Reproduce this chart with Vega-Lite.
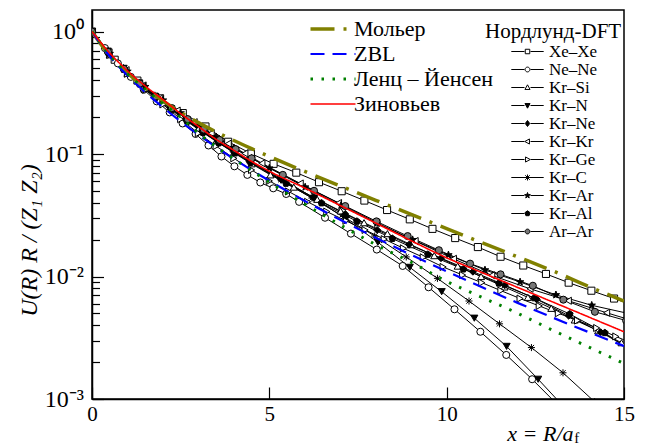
{
  "$schema": "https://vega.github.io/schema/vega-lite/v6.json",
  "width": 532,
  "height": 389,
  "autosize": {"type": "none"},
  "padding": {"left": 92, "top": 10, "right": 25, "bottom": 47},
  "background": "white",
  "config": {
    "font": "Liberation Serif",
    "view": {"stroke": "black", "strokeWidth": 1.5},
    "text": {"font": "Liberation Serif"},
    "axis": {"labelFont": "Liberation Serif", "titleFont": "Liberation Serif", "labelColor": "black", "titleColor": "black", "domainColor": "black", "tickColor": "black", "grid": false, "titleFontWeight": "normal", "domainWidth": 1.5, "tickWidth": 1.2},
    "legend": {"labelFont": "Liberation Serif", "titleFont": "Liberation Serif", "labelColor": "black", "titleColor": "black", "titleFontWeight": "normal"}
  },
  "resolve": {"scale": {"shape": "independent"}},
  "datasets": {
    "dft": [
      {"s":"Xe–Xe","x":0,"u":1},{"s":"Xe–Xe","x":0.64,"u":0.589},{"s":"Xe–Xe","x":1.28,"u":0.398},{"s":"Xe–Xe","x":1.92,"u":0.285},{"s":"Xe–Xe","x":2.56,"u":0.216},{"s":"Xe–Xe","x":3.2,"u":0.168},{"s":"Xe–Xe","x":3.84,"u":0.126},{"s":"Xe–Xe","x":4.48,"u":0.101},{"s":"Xe–Xe","x":5.12,"u":0.0832},{"s":"Xe–Xe","x":5.76,"u":0.0705},{"s":"Xe–Xe","x":6.4,"u":0.0589},{"s":"Xe–Xe","x":7.04,"u":0.0497},{"s":"Xe–Xe","x":7.68,"u":0.0417},{"s":"Xe–Xe","x":8.32,"u":0.0349},{"s":"Xe–Xe","x":8.96,"u":0.0293},{"s":"Xe–Xe","x":9.6,"u":0.0245},{"s":"Xe–Xe","x":10.24,"u":0.0206},{"s":"Xe–Xe","x":10.88,"u":0.0174},{"s":"Xe–Xe","x":11.52,"u":0.0145},{"s":"Xe–Xe","x":12.16,"u":0.0123},{"s":"Xe–Xe","x":12.8,"u":0.0105},{"s":"Xe–Xe","x":13.44,"u":0.00891},{"s":"Xe–Xe","x":14.08,"u":0.00766},{"s":"Xe–Xe","x":14.72,"u":0.00661},{"s":"Xe–Xe","x":15.36,"u":0.00569},
      {"s":"Ne–Ne","x":0,"u":1},{"s":"Ne–Ne","x":0.365,"u":0.733},{"s":"Ne–Ne","x":0.73,"u":0.5495},{"s":"Ne–Ne","x":1.095,"u":0.4266},{"s":"Ne–Ne","x":1.46,"u":0.335},{"s":"Ne–Ne","x":1.825,"u":0.2692},{"s":"Ne–Ne","x":2.19,"u":0.2188},{"s":"Ne–Ne","x":2.555,"u":0.1778},{"s":"Ne–Ne","x":2.92,"u":0.1459},{"s":"Ne–Ne","x":3.285,"u":0.1175},{"s":"Ne–Ne","x":3.65,"u":0.0955},{"s":"Ne–Ne","x":4.015,"u":0.0794},{"s":"Ne–Ne","x":4.38,"u":0.0676},{"s":"Ne–Ne","x":4.745,"u":0.0586},{"s":"Ne–Ne","x":5.11,"u":0.0525},{"s":"Ne–Ne","x":5.475,"u":0.0472},{"s":"Ne–Ne","x":5.84,"u":0.0407},{"s":"Ne–Ne","x":6.57,"u":0.0302},{"s":"Ne–Ne","x":7.3,"u":0.0224},{"s":"Ne–Ne","x":8.03,"u":0.0166},{"s":"Ne–Ne","x":8.76,"u":0.0122},{"s":"Ne–Ne","x":9.49,"u":0.00817},{"s":"Ne–Ne","x":10.22,"u":0.0054},{"s":"Ne–Ne","x":10.95,"u":0.00354},{"s":"Ne–Ne","x":11.68,"u":0.00229},{"s":"Ne–Ne","x":12.41,"u":0.00145},{"s":"Ne–Ne","x":13.14,"u":0.00089},
      {"s":"Kr–Si","x":0,"u":1},{"s":"Kr–Si","x":0.5,"u":0.6457},{"s":"Kr–Si","x":1,"u":0.4571},{"s":"Kr–Si","x":1.5,"u":0.3428},{"s":"Kr–Si","x":2,"u":0.263},{"s":"Kr–Si","x":2.5,"u":0.2042},{"s":"Kr–Si","x":3,"u":0.1603},{"s":"Kr–Si","x":3.5,"u":0.1274},{"s":"Kr–Si","x":4,"u":0.1023},{"s":"Kr–Si","x":4.5,"u":0.0832},{"s":"Kr–Si","x":5.03,"u":0.0676},{"s":"Kr–Si","x":5.69,"u":0.0537},{"s":"Kr–Si","x":6.35,"u":0.0427},{"s":"Kr–Si","x":7.01,"u":0.0343},{"s":"Kr–Si","x":7.67,"u":0.0275},{"s":"Kr–Si","x":8.33,"u":0.0224},{"s":"Kr–Si","x":8.99,"u":0.0182},{"s":"Kr–Si","x":9.65,"u":0.0148},{"s":"Kr–Si","x":10.31,"u":0.01216},{"s":"Kr–Si","x":10.97,"u":0.01},{"s":"Kr–Si","x":11.63,"u":0.00822},{"s":"Kr–Si","x":12.29,"u":0.00676},{"s":"Kr–Si","x":12.95,"u":0.0055},{"s":"Kr–Si","x":13.61,"u":0.00442},{"s":"Kr–Si","x":14.27,"u":0.00361},{"s":"Kr–Si","x":14.93,"u":0.00288},{"s":"Kr–Si","x":15.59,"u":0.00234},
      {"s":"Kr–N","x":0,"u":1},{"s":"Kr–N","x":0.446,"u":0.692},{"s":"Kr–N","x":0.892,"u":0.501},{"s":"Kr–N","x":1.338,"u":0.38},{"s":"Kr–N","x":1.784,"u":0.295},{"s":"Kr–N","x":2.23,"u":0.2344},{"s":"Kr–N","x":2.676,"u":0.1884},{"s":"Kr–N","x":3.122,"u":0.1531},{"s":"Kr–N","x":3.568,"u":0.1259},{"s":"Kr–N","x":4.014,"u":0.1047},{"s":"Kr–N","x":4.46,"u":0.0881},{"s":"Kr–N","x":5.36,"u":0.0624},{"s":"Kr–N","x":6.26,"u":0.0437},{"s":"Kr–N","x":7.16,"u":0.0295},{"s":"Kr–N","x":8.06,"u":0.01905},{"s":"Kr–N","x":8.96,"u":0.01189},{"s":"Kr–N","x":9.86,"u":0.00752},{"s":"Kr–N","x":10.78,"u":0.00457},{"s":"Kr–N","x":11.69,"u":0.00269},{"s":"Kr–N","x":12.58,"u":0.00145},{"s":"Kr–N","x":13.48,"u":0.00076},
      {"s":"Kr–Ne","x":0,"u":1},{"s":"Kr–Ne","x":0.444,"u":0.684},{"s":"Kr–Ne","x":0.888,"u":0.4955},{"s":"Kr–Ne","x":1.332,"u":0.3758},{"s":"Kr–Ne","x":1.776,"u":0.2951},{"s":"Kr–Ne","x":2.22,"u":0.2344},{"s":"Kr–Ne","x":2.664,"u":0.1884},{"s":"Kr–Ne","x":3.108,"u":0.1531},{"s":"Kr–Ne","x":3.552,"u":0.1259},{"s":"Kr–Ne","x":3.996,"u":0.1047},{"s":"Kr–Ne","x":4.44,"u":0.0871},{"s":"Kr–Ne","x":5.34,"u":0.0617},{"s":"Kr–Ne","x":6.24,"u":0.0442},{"s":"Kr–Ne","x":7.14,"u":0.0324},{"s":"Kr–Ne","x":8.04,"u":0.024},{"s":"Kr–Ne","x":8.94,"u":0.0182},{"s":"Kr–Ne","x":9.84,"u":0.01413},{"s":"Kr–Ne","x":10.74,"u":0.01096},{"s":"Kr–Ne","x":11.64,"u":0.00851},{"s":"Kr–Ne","x":12.54,"u":0.00652},{"s":"Kr–Ne","x":13.44,"u":0.00479},{"s":"Kr–Ne","x":14.34,"u":0.00351},{"s":"Kr–Ne","x":15.24,"u":0.00251},
      {"s":"Kr–Kr","x":0,"u":1},{"s":"Kr–Kr","x":0.48,"u":0.676},{"s":"Kr–Kr","x":0.96,"u":0.4842},{"s":"Kr–Kr","x":1.44,"u":0.3631},{"s":"Kr–Kr","x":1.92,"u":0.2851},{"s":"Kr–Kr","x":2.4,"u":0.2265},{"s":"Kr–Kr","x":2.88,"u":0.182},{"s":"Kr–Kr","x":3.36,"u":0.1479},{"s":"Kr–Kr","x":3.84,"u":0.1216},{"s":"Kr–Kr","x":4.31,"u":0.1012},{"s":"Kr–Kr","x":4.79,"u":0.0841},{"s":"Kr–Kr","x":5.87,"u":0.0575},{"s":"Kr–Kr","x":6.95,"u":0.0398},{"s":"Kr–Kr","x":8.03,"u":0.0275},{"s":"Kr–Kr","x":9.11,"u":0.0195},{"s":"Kr–Kr","x":10.19,"u":0.01396},{"s":"Kr–Kr","x":11.27,"u":0.01023},{"s":"Kr–Kr","x":12.35,"u":0.00794},{"s":"Kr–Kr","x":13.43,"u":0.00634},{"s":"Kr–Kr","x":14.51,"u":0.00506},{"s":"Kr–Kr","x":15.59,"u":0.00407},
      {"s":"Kr–Ge","x":0,"u":1},{"s":"Kr–Ge","x":0.5,"u":0.6457},{"s":"Kr–Ge","x":1,"u":0.4519},{"s":"Kr–Ge","x":1.5,"u":0.335},{"s":"Kr–Ge","x":2,"u":0.2541},{"s":"Kr–Ge","x":2.5,"u":0.1928},{"s":"Kr–Ge","x":3,"u":0.1479},{"s":"Kr–Ge","x":3.5,"u":0.1161},{"s":"Kr–Ge","x":4,"u":0.0923},{"s":"Kr–Ge","x":4.5,"u":0.0741},{"s":"Kr–Ge","x":5.0,"u":0.0603},{"s":"Kr–Ge","x":5.54,"u":0.0495},{"s":"Kr–Ge","x":6.08,"u":0.0407},{"s":"Kr–Ge","x":6.62,"u":0.0339},{"s":"Kr–Ge","x":7.16,"u":0.0285},{"s":"Kr–Ge","x":7.7,"u":0.024},{"s":"Kr–Ge","x":8.24,"u":0.0202},{"s":"Kr–Ge","x":8.78,"u":0.017},{"s":"Kr–Ge","x":9.34,"u":0.01435},{"s":"Kr–Ge","x":9.9,"u":0.01197},{"s":"Kr–Ge","x":10.45,"u":0.01028},{"s":"Kr–Ge","x":10.99,"u":0.00891},{"s":"Kr–Ge","x":11.53,"u":0.00767},{"s":"Kr–Ge","x":12.07,"u":0.00661},{"s":"Kr–Ge","x":12.61,"u":0.00575},{"s":"Kr–Ge","x":13.15,"u":0.00501},{"s":"Kr–Ge","x":13.69,"u":0.00437},{"s":"Kr–Ge","x":14.23,"u":0.0038},{"s":"Kr–Ge","x":14.77,"u":0.00324},{"s":"Kr–Ge","x":15.31,"u":0.00279},
      {"s":"Kr–C","x":0,"u":1},{"s":"Kr–C","x":0.443,"u":0.692},{"s":"Kr–C","x":0.886,"u":0.507},{"s":"Kr–C","x":1.329,"u":0.3846},{"s":"Kr–C","x":1.772,"u":0.302},{"s":"Kr–C","x":2.215,"u":0.2399},{"s":"Kr–C","x":2.658,"u":0.1928},{"s":"Kr–C","x":3.101,"u":0.1567},{"s":"Kr–C","x":3.544,"u":0.1288},{"s":"Kr–C","x":3.987,"u":0.1072},{"s":"Kr–C","x":4.43,"u":0.0891},{"s":"Kr–C","x":5.32,"u":0.0617},{"s":"Kr–C","x":6.2,"u":0.0437},{"s":"Kr–C","x":7.09,"u":0.0309},{"s":"Kr–C","x":7.97,"u":0.0214},{"s":"Kr–C","x":8.86,"u":0.01445},{"s":"Kr–C","x":9.74,"u":0.00966},{"s":"Kr–C","x":10.63,"u":0.00631},{"s":"Kr–C","x":11.49,"u":0.00411},{"s":"Kr–C","x":12.39,"u":0.00263},{"s":"Kr–C","x":13.28,"u":0.001637},{"s":"Kr–C","x":14.17,"u":0.00095},
      {"s":"Kr–Ar","x":0,"u":1},{"s":"Kr–Ar","x":0.5,"u":0.6607},{"s":"Kr–Ar","x":1,"u":0.4732},{"s":"Kr–Ar","x":1.5,"u":0.3548},{"s":"Kr–Ar","x":2,"u":0.2754},{"s":"Kr–Ar","x":2.5,"u":0.2163},{"s":"Kr–Ar","x":3,"u":0.1718},{"s":"Kr–Ar","x":3.5,"u":0.138},{"s":"Kr–Ar","x":4,"u":0.1122},{"s":"Kr–Ar","x":4.5,"u":0.0923},{"s":"Kr–Ar","x":5.0,"u":0.0767},{"s":"Kr–Ar","x":6.01,"u":0.0537},{"s":"Kr–Ar","x":7.02,"u":0.038},{"s":"Kr–Ar","x":8.03,"u":0.0272},{"s":"Kr–Ar","x":9.04,"u":0.01995},{"s":"Kr–Ar","x":10.05,"u":0.015},{"s":"Kr–Ar","x":11.08,"u":0.0113},{"s":"Kr–Ar","x":12.07,"u":0.00902},{"s":"Kr–Ar","x":13.08,"u":0.00708},{"s":"Kr–Ar","x":14.09,"u":0.00582},{"s":"Kr–Ar","x":15.1,"u":0.00501},
      {"s":"Kr–Al","x":0,"u":1},{"s":"Kr–Al","x":0.447,"u":0.676},{"s":"Kr–Al","x":0.894,"u":0.4898},{"s":"Kr–Al","x":1.341,"u":0.3715},{"s":"Kr–Al","x":1.788,"u":0.2884},{"s":"Kr–Al","x":2.235,"u":0.2291},{"s":"Kr–Al","x":2.682,"u":0.1841},{"s":"Kr–Al","x":3.129,"u":0.1496},{"s":"Kr–Al","x":3.576,"u":0.123},{"s":"Kr–Al","x":4.023,"u":0.1023},{"s":"Kr–Al","x":4.47,"u":0.0851},{"s":"Kr–Al","x":5.47,"u":0.0575},{"s":"Kr–Al","x":6.47,"u":0.0398},{"s":"Kr–Al","x":7.47,"u":0.0282},{"s":"Kr–Al","x":8.47,"u":0.0204},{"s":"Kr–Al","x":9.47,"u":0.01514},{"s":"Kr–Al","x":10.47,"u":0.01148},{"s":"Kr–Al","x":11.47,"u":0.00881},{"s":"Kr–Al","x":12.47,"u":0.00668},{"s":"Kr–Al","x":13.47,"u":0.00494},{"s":"Kr–Al","x":14.46,"u":0.00347},{"s":"Kr–Al","x":15.46,"u":0.00219},
      {"s":"Ar–Ar","x":0,"u":1},{"s":"Ar–Ar","x":0.45,"u":0.684},{"s":"Ar–Ar","x":0.9,"u":0.4955},{"s":"Ar–Ar","x":1.35,"u":0.3758},{"s":"Ar–Ar","x":1.8,"u":0.2951},{"s":"Ar–Ar","x":2.25,"u":0.2371},{"s":"Ar–Ar","x":2.7,"u":0.1928},{"s":"Ar–Ar","x":3.15,"u":0.1585},{"s":"Ar–Ar","x":3.6,"u":0.1303},{"s":"Ar–Ar","x":4.05,"u":0.1096},{"s":"Ar–Ar","x":4.5,"u":0.0923},{"s":"Ar–Ar","x":5.38,"u":0.0676},{"s":"Ar–Ar","x":6.26,"u":0.0501},{"s":"Ar–Ar","x":7.14,"u":0.0376},{"s":"Ar–Ar","x":8.02,"u":0.0282},{"s":"Ar–Ar","x":8.9,"u":0.02138},{"s":"Ar–Ar","x":9.78,"u":0.0164},{"s":"Ar–Ar","x":10.66,"u":0.01274},{"s":"Ar–Ar","x":11.52,"u":0.01042},{"s":"Ar–Ar","x":12.43,"u":0.00841},{"s":"Ar–Ar","x":13.29,"u":0.00647},{"s":"Ar–Ar","x":14.18,"u":0.00515},{"s":"Ar–Ar","x":15.06,"u":0.00437}
    ],
    "th": [
      {"m":"Мольер","x":0,"u":1},{"m":"Мольер","x":0.5,"u":0.637},{"m":"Мольер","x":1,"u":0.459},{"m":"Мольер","x":1.5,"u":0.347},{"m":"Мольер","x":2,"u":0.2716},{"m":"Мольер","x":2.5,"u":0.219},{"m":"Мольер","x":3,"u":0.1806},{"m":"Мольер","x":3.5,"u":0.1516},{"m":"Мольер","x":4,"u":0.1289},{"m":"Мольер","x":4.5,"u":0.1106},{"m":"Мольер","x":5,"u":0.0955},{"m":"Мольер","x":6,"u":0.0721},{"m":"Мольер","x":7,"u":0.0549},{"m":"Мольер","x":8,"u":0.04195},{"m":"Мольер","x":9,"u":0.03213},{"m":"Мольер","x":10,"u":0.0246},{"m":"Мольер","x":11,"u":0.01886},{"m":"Мольер","x":12,"u":0.01447},{"m":"Мольер","x":13,"u":0.0111},{"m":"Мольер","x":14,"u":0.0083},{"m":"Мольер","x":15,"u":0.0063},
      {"m":"ZBL","x":0,"u":1},{"m":"ZBL","x":0.5,"u":0.628},{"m":"ZBL","x":1,"u":0.4375},{"m":"ZBL","x":1.5,"u":0.3197},{"m":"ZBL","x":2,"u":0.2407},{"m":"ZBL","x":2.5,"u":0.1845},{"m":"ZBL","x":3,"u":0.144},{"m":"ZBL","x":3.5,"u":0.1139},{"m":"ZBL","x":4,"u":0.0912},{"m":"ZBL","x":4.5,"u":0.0739},{"m":"ZBL","x":5,"u":0.06045},{"m":"ZBL","x":6,"u":0.0414},{"m":"ZBL","x":7,"u":0.02903},{"m":"ZBL","x":8,"u":0.02073},{"m":"ZBL","x":9,"u":0.01502},{"m":"ZBL","x":10,"u":0.01101},{"m":"ZBL","x":11,"u":0.00816},{"m":"ZBL","x":12,"u":0.006093},{"m":"ZBL","x":13,"u":0.004609},{"m":"ZBL","x":14,"u":0.003518},{"m":"ZBL","x":15,"u":0.002707},
      {"m":"Ленц – Йенсен","x":0,"u":1},{"m":"Ленц – Йенсен","x":0.5,"u":0.6457},{"m":"Ленц – Йенсен","x":1,"u":0.4519},{"m":"Ленц – Йенсен","x":1.5,"u":0.3388},{"m":"Ленц – Йенсен","x":2,"u":0.257},{"m":"Ленц – Йенсен","x":2.5,"u":0.1995},{"m":"Ленц – Йенсен","x":3,"u":0.1479},{"m":"Ленц – Йенсен","x":3.5,"u":0.1148},{"m":"Ленц – Йенсен","x":4,"u":0.0912},{"m":"Ленц – Йенсен","x":4.5,"u":0.0733},{"m":"Ленц – Йенсен","x":5,"u":0.0589},{"m":"Ленц – Йенсен","x":6,"u":0.0389},{"m":"Ленц – Йенсен","x":7,"u":0.02642},{"m":"Ленц – Йенсен","x":8,"u":0.0182},{"m":"Ленц – Йенсен","x":9,"u":0.01309},{"m":"Ленц – Йенсен","x":10,"u":0.00912},{"m":"Ленц – Йенсен","x":11,"u":0.00676},{"m":"Ленц – Йенсен","x":12,"u":0.00501},{"m":"Ленц – Йенсен","x":13,"u":0.00363},{"m":"Ленц – Йенсен","x":14,"u":0.00266},{"m":"Ленц – Йенсен","x":15,"u":0.00195},
      {"m":"Зиновьев","x":0,"u":1},{"m":"Зиновьев","x":0.5,"u":0.668},{"m":"Зиновьев","x":1,"u":0.4786},{"m":"Зиновьев","x":1.5,"u":0.3589},{"m":"Зиновьев","x":2,"u":0.2786},{"m":"Зиновьев","x":2.5,"u":0.2138},{"m":"Зиновьев","x":3,"u":0.1679},{"m":"Зиновьев","x":3.5,"u":0.1318},{"m":"Зиновьев","x":4,"u":0.1072},{"m":"Зиновьев","x":4.5,"u":0.0871},{"m":"Зиновьев","x":5,"u":0.0724},{"m":"Зиновьев","x":6,"u":0.0528},{"m":"Зиновьев","x":7,"u":0.038},{"m":"Зиновьев","x":8,"u":0.0273},{"m":"Зиновьев","x":9,"u":0.01959},{"m":"Зиновьев","x":10,"u":0.01422},{"m":"Зиновьев","x":11,"u":0.01076},{"m":"Зиновьев","x":12,"u":0.00815},{"m":"Зиновьев","x":13,"u":0.00618},{"m":"Зиновьев","x":14,"u":0.00468},{"m":"Зиновьев","x":15,"u":0.00354}
    ],
    "sub": [{"t": "f", "x": 13.6, "u": 0.001}]
  },
  "encoding": {
    "x": {"field": "x", "type": "quantitative", "scale": {"domain": [0, 15], "nice": false, "zero": false},
      "axis": {"values": [0, 5, 10, 15], "tickSize": -12, "labelPadding": 16, "labelFont": "Liberation Serif", "labelFontSize": 21, "labelFlush": false,
        "title": "x = R/a", "titleFont": "Liberation Serif", "titleFontStyle": "italic", "titleFontSize": 22, "titleAlign": "right", "titleBaseline": "alphabetic", "titleX": 481, "titleY": 41}},
    "y": {"field": "u", "type": "quantitative", "scale": {"type": "log", "domain": [0.001, 1.5], "nice": false},
      "axis": {"values": [0.001,0.002,0.003,0.004,0.005,0.006,0.007,0.008,0.009,0.01,0.02,0.03,0.04,0.05,0.06,0.07,0.08,0.09,0.1,0.2,0.3,0.4,0.5,0.6,0.7,0.8,0.9,1],
        "tickSize": {"condition": {"test": "datum.value == 1 || datum.value == 0.1 || datum.value == 0.01 || datum.value == 0.001", "value": -11.5}, "value": -7.5},
        "labelExpr": "datum.value == 1 ? '10⁰' : datum.value == 0.1 ? '10⁻¹' : datum.value == 0.01 ? '10⁻²' : datum.value == 0.001 ? '10⁻³' : ''",
        "labelOverlap": false, "labelFlush": false, "labelPadding": 20, "labelFont": "Liberation Serif", "labelFontSize": 24, "labelBaseline": "middle",
        "title": "U(R) R / (Z₁ Z₂)", "titleFont": "Liberation Serif", "titleFontStyle": "italic", "titleFontSize": 24, "titleAngle": -90, "titleAlign": "center", "titleBaseline": "alphabetic", "titleX": -56, "titleY": 230}}
  },
  "layer": [
    {
      "data": {"name": "dft"},
      "mark": {"type": "line", "clip": true, "color": "black", "strokeWidth": 1},
      "encoding": {"detail": {"field": "s", "type": "nominal"}}
    },
    {
      "data": {"name": "dft"},
      "mark": {"type": "point", "clip": true, "stroke": "black", "strokeWidth": 1, "opacity": 1, "size": 50},
      "encoding": {
        "shape": {"field": "s", "type": "nominal", "legend": null,
          "scale": {"domain": ["Xe–Xe","Ne–Ne","Kr–Si","Kr–N","Kr–Ne","Kr–Kr","Kr–Ge","Kr–C","Kr–Ar","Kr–Al","Ar–Ar"],
            "range": ["square","circle","triangle-up","triangle-down","diamond","triangle-left","triangle-right",
              "M-1,0H1M0,-1V1M-0.75,-0.75L0.75,0.75M-0.75,0.75L0.75,-0.75",
              "M0,-1.1L0.26,-0.36L1.05,-0.34L0.42,0.14L0.65,0.89L0,0.44L-0.65,0.89L-0.42,0.14L-1.05,-0.34L-0.26,-0.36Z",
              "M0,-1L0.95,-0.31L0.59,0.81L-0.59,0.81L-0.95,-0.31Z",
              "circle"]}},
        "fill": {"field": "s", "type": "nominal", "legend": null,
          "scale": {"domain": ["Xe–Xe","Ne–Ne","Kr–Si","Kr–N","Kr–Ne","Kr–Kr","Kr–Ge","Kr–C","Kr–Ar","Kr–Al","Ar–Ar"],
            "range": ["white","white","white","black","black","white","white","black","black","black","#777777"]}}
      }
    },
    {
      "data": {"name": "dft"},
      "mark": {"type": "point", "clip": true, "stroke": "black", "strokeWidth": 1, "opacity": 0, "size": 36},
      "encoding": {
        "shape": {"field": "s", "type": "nominal",
          "scale": {"domain": ["Xe–Xe","Ne–Ne","Kr–Si","Kr–N","Kr–Ne","Kr–Kr","Kr–Ge","Kr–C","Kr–Ar","Kr–Al","Ar–Ar"],
            "range": [
              "M-5.4,0H-1M1,0H5.4M-0.75,-0.75H0.75V0.75H-0.75Z",
              "M-5.4,0H-1M1,0H5.4M-0.8,0A0.8,0.8,0,1,1,0.8,0A0.8,0.8,0,1,1,-0.8,0Z",
              "M-5.4,0H-1M1,0H5.4M0,-0.9L0.85,0.65H-0.85Z",
              "M-5.4,0H-1M1,0H5.4M0,0.9L0.85,-0.65H-0.85Z",
              "M-5.4,0H-1M1,0H5.4M0,-1L0.75,0L0,1L-0.75,0Z",
              "M-5.4,0H-1M1,0H5.4M-0.9,0L0.65,-0.85V0.85Z",
              "M-5.4,0H-1M1,0H5.4M0.9,0L-0.65,-0.85V0.85Z",
              "M-5.4,0H5.4M0,-1V1M-0.75,-0.75L0.75,0.75M-0.75,0.75L0.75,-0.75",
              "M-5.4,0H-1M1,0H5.4M0,-1L0.24,-0.33L0.95,-0.31L0.38,0.13L0.59,0.81L0,0.4L-0.59,0.81L-0.38,0.13L-0.95,-0.31L-0.24,-0.33Z",
              "M-5.4,0H-1M1,0H5.4M0,-0.9L0.86,-0.28L0.53,0.73L-0.53,0.73L-0.86,-0.28Z",
              "M-5.4,0H-1M1,0H5.4M-0.8,0A0.8,0.8,0,1,1,0.8,0A0.8,0.8,0,1,1,-0.8,0Z"]},
          "legend": {"orient": "none", "legendX": 393, "legendY": 11, "title": "Нордлунд-DFT", "titleFont": "Liberation Serif", "titleFontSize": 21, "titlePadding": 1,
            "labelFont": "Liberation Serif", "labelFontSize": 17,
            "symbolSize": 36, "symbolOffset": 34, "labelOffset": 13, "rowPadding": 0, "symbolStrokeColor": "black", "symbolStrokeWidth": 1, "symbolOpacity": 1,
            "encoding": {"symbols": {
              "fill": {"value": {"expr": "indexof(['Kr–N','Kr–Ne','Kr–C','Kr–Ar','Kr–Al'], datum.value) >= 0 ? 'black' : datum.value === 'Ar–Ar' ? '#777777' : 'white'"}},
              "stroke": {"value": "black"},
              "strokeWidth": {"value": 1},
              "opacity": {"value": 1}
            }}}},
        "fill": {"field": "s", "type": "nominal", "legend": null,
          "scale": {"domain": ["Xe–Xe","Ne–Ne","Kr–Si","Kr–N","Kr–Ne","Kr–Kr","Kr–Ge","Kr–C","Kr–Ar","Kr–Al","Ar–Ar"],
            "range": ["white","white","white","black","black","white","white","black","black","black","#777777"]}}
      }
    },
    {
      "data": {"name": "th"},
      "mark": {"type": "line", "clip": true, "interpolate": "monotone"},
      "encoding": {
        "color": {"field": "m", "type": "nominal",
          "scale": {"domain": ["Мольер","ZBL","Ленц – Йенсен","Зиновьев"], "range": ["#808000","#0000ff","#008000","#ff0000"]},
          "legend": {"orient": "none", "legendX": 230, "legendY": 8, "title": null, "labelFont": "Liberation Serif", "labelFontSize": 22, "symbolType": "M-7.5,0H7.5", "symbolSize": 36,
            "symbolOffset": 0, "labelOffset": 10, "rowPadding": 3}},
        "strokeDash": {"field": "m", "type": "nominal", "legend": null,
          "scale": {"domain": ["Мольер","ZBL","Ленц – Йенсен","Зиновьев"], "range": [[24,9,3,9],[14,8],[2.5,8.5],[1,0]]}},
        "strokeWidth": {"field": "m", "type": "nominal", "legend": null,
          "scale": {"type": "ordinal", "domain": ["Мольер","ZBL","Ленц – Йенсен","Зиновьев"], "range": [3.5,2.2,3,1.6]}}
      }
    },
    {
      "data": {"name": "sub"},
      "mark": {"type": "text", "font": "Liberation Serif", "fontSize": 15, "baseline": "alphabetic", "align": "left", "dy": 44, "color": "black"},
      "encoding": {"text": {"field": "t", "type": "nominal"}, "x": {"field": "x", "type": "quantitative"}, "y": {"field": "u", "type": "quantitative"}}
    }
  ]
}
